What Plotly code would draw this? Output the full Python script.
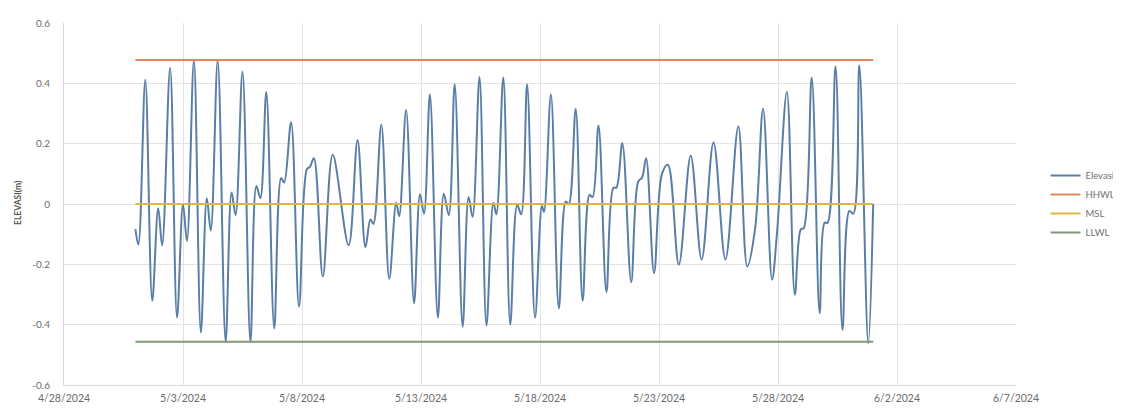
import plotly.graph_objects as go
import pandas as pd

# Hours since 2024-05-01 00:00 of readable turning points of the record
hours = [0, 3, 10, 17, 23, 27, 35, 42, 48, 52, 59, 66, 72, 76, 83, 91, 97, 101,
         108, 116, 122, 126, 132, 140, 147, 150, 157, 165, 173, 176, 180, 189,
         199, 215, 224, 232, 237, 240, 248, 256, 263, 266, 273, 281, 287, 291,
         297, 305, 311, 316, 322, 330, 336, 340, 347, 354, 361, 364, 371, 378,
         385, 389, 395, 403, 410, 412, 419, 427, 434, 437, 444, 451, 458, 461,
         467, 475, 482, 485, 491, 500, 507, 511, 515, 523, 531, 537, 548, 560,
         571, 583, 595, 608, 617, 625, 633, 642, 647, 657, 665, 671, 674, 682,
         690, 695, 698, 706, 713, 720, 724, 730, 739, 744]
elevasi = [-0.083, -0.134, 0.412, -0.321, -0.014, -0.137, 0.452, -0.377, -0.001,
           -0.123, 0.477, -0.426, 0.019, -0.088, 0.477, -0.457, 0.038, -0.037,
           0.438, -0.457, 0.060, 0.019, 0.371, -0.412, 0.086, 0.071, 0.271,
           -0.340, 0.116, 0.123, 0.152, -0.240, 0.163, -0.137, 0.212, -0.143,
           -0.051, -0.066, 0.263, -0.248, 0.004, -0.040, 0.312, -0.329, 0.032,
           -0.032, 0.363, -0.377, 0.034, -0.037, 0.397, -0.407, 0.023, -0.043,
           0.421, -0.403, 0.004, -0.034, 0.419, -0.399, -0.003, -0.034, 0.397,
           -0.377, -0.007, -0.026, 0.363, -0.346, 0.008, -0.001, 0.316, -0.321,
           0.030, 0.023, 0.260, -0.292, 0.054, 0.054, 0.201, -0.259, 0.074,
           0.088, 0.152, -0.229, 0.100, 0.130, -0.201, 0.160, -0.184, 0.204,
           -0.184, 0.257, -0.207, -0.079, 0.316, -0.251, -0.096, 0.371, -0.301,
           -0.084, -0.080, 0.419, -0.362, -0.062, -0.062, 0.457, -0.418, -0.023,
           -0.032, 0.460, -0.462, 0.000]

start = "2024-05-01 00:00"
end = "2024-06-01 00:00"
HHWL = 0.477
MSL = 0.0
LLWL = -0.457

x_tick_dates = ["2024-04-28", "2024-05-03", "2024-05-08", "2024-05-13", "2024-05-18",
                "2024-05-23", "2024-05-28", "2024-06-02", "2024-06-07"]
x_tick_labels = ["4/28/2024", "5/3/2024", "5/8/2024", "5/13/2024", "5/18/2024",
                 "5/23/2024", "5/28/2024", "6/2/2024", "6/7/2024"]
y_tick_vals = [-0.6, -0.4, -0.2, 0, 0.2, 0.4, 0.6]
y_tick_labels = ["-0.6", "-0.4", "-0.2", "0", "0.2", "0.4", "0.6"]

times = pd.Timestamp(start) + pd.to_timedelta(hours, unit="h")

fig = go.Figure()
fig.add_trace(go.Scatter(x=times, y=elevasi, mode="lines", name="Elevasi",
                         line=dict(color="#5b7ea6", width=2, shape="spline", smoothing=1.0)))
fig.add_trace(go.Scatter(x=[start, end], y=[HHWL, HHWL], mode="lines", name="HHWL",
                         line=dict(color="#dc8a5a", width=2)))
fig.add_trace(go.Scatter(x=[start, end], y=[MSL, MSL], mode="lines", name="MSL",
                         line=dict(color="#e2b443", width=2)))
fig.add_trace(go.Scatter(x=[start, end], y=[LLWL, LLWL], mode="lines", name="LLWL",
                         line=dict(color="#7f9a78", width=2)))

font_family = "Lato, 'Open Sans', sans-serif"
# the page body adds an 8px offset on the left and top; margins compensate for it
fig.update_layout(
    width=1121, height=410,
    margin=dict(l=56, r=113, t=15, b=33, autoexpand=False),
    plot_bgcolor="white", paper_bgcolor="white",
    font=dict(family=font_family, size=9, color="#6b6b6b"),
    showlegend=True,
    legend=dict(x=1.031, y=0.5, xanchor="left", yanchor="middle",
                font=dict(size=9.5, color="#707070"), bgcolor="rgba(0,0,0,0)",
                tracegroupgap=0, itemwidth=30),
    xaxis=dict(range=["2024-04-28", "2024-06-07"], tickvals=x_tick_dates,
               ticktext=x_tick_labels, showgrid=True, gridcolor="#e3e3e3",
               gridwidth=1, zeroline=False, showline=True, linecolor="#d9d9d9",
               ticks="", automargin=False, ticklabelstandoff=3,
               tickfont=dict(size=10.5, color="#6b6b6b")),
    yaxis=dict(range=[-0.6, 0.6], tickvals=y_tick_vals, ticktext=y_tick_labels,
               showgrid=True, gridcolor="#e3e3e3", gridwidth=1, zeroline=False,
               showline=True, linecolor="#d9d9d9", ticks="", automargin=False,
               ticklabelstandoff=11,
               tickfont=dict(size=10, color="#6b6b6b")),
    annotations=[dict(text="<b>ELEVASI(m)</b>", xref="paper", yref="paper",
                      x=-0.0483, y=0.503, xanchor="center", yanchor="middle",
                      textangle=-90, showarrow=False,
                      font=dict(size=8.5, color="#555555", family=font_family))],
)

fig.write_html("out.html")
